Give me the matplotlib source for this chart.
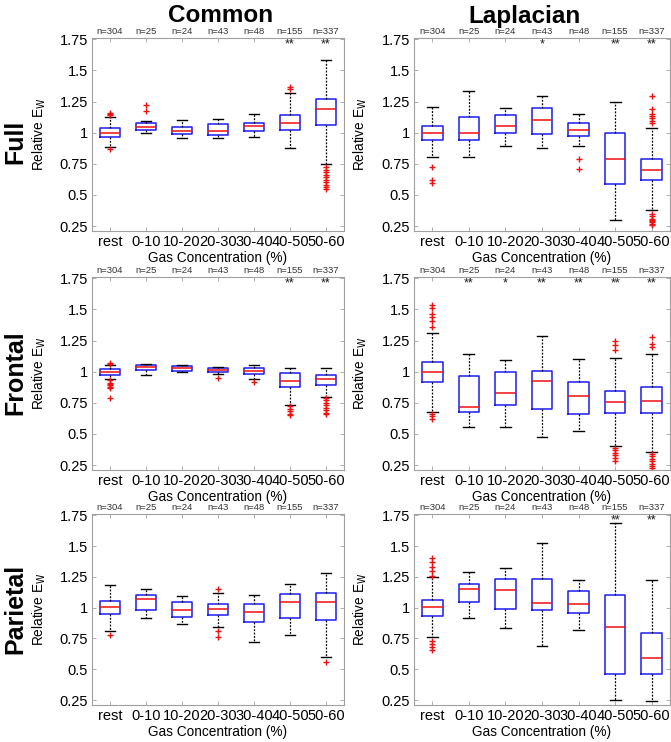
import matplotlib
matplotlib.use("Agg")
import matplotlib.pyplot as plt

plt.rcParams['font.family'] = ['Liberation Sans', 'DejaVu Sans']

categories = ['rest', '0-10', '10-20', '20-30', '30-40', '40-50', '50-60']
n_counts = [304, 25, 24, 43, 48, 155, 337]
row_names = ['Full', 'Frontal', 'Parietal']
col_names = ['Common', 'Laplacian']

# boxes: (whisker low, q1, median, q3, whisker high) per category
full_common_box = [(0.883, 0.963, 1.0, 1.035, 1.123), (0.995, 1.024, 1.048, 1.08, 1.09),
                   (0.955, 0.987, 1.013, 1.043, 1.104), (0.955, 0.984, 1.016, 1.069, 1.109),
                   (0.963, 1.016, 1.053, 1.08, 1.147), (0.875, 1.025, 1.075, 1.143, 1.319),
                   (0.745, 1.062, 1.19, 1.273, 1.582)]
full_common_out = [[1.16, 1.15, 1.14, 0.87], [1.176, 1.22], [], [], [], [1.37, 1.35],
                   [0.72, 0.70, 0.68, 0.66, 0.64, 0.62, 0.60, 0.58, 0.56, 0.55]]
full_common_sig = ['', '', '', '', '', '**', '**']

full_lap_box = [(0.803, 0.941, 1.0, 1.056, 1.203), (0.808, 0.941, 1.0, 1.128, 1.331),
                (0.89, 1.0, 1.056, 1.14, 1.195), (0.875, 0.987, 1.101, 1.195, 1.296),
                (0.896, 0.973, 1.024, 1.077, 1.149), (0.301, 0.584, 0.787, 0.997, 1.25),
                (0.381, 0.616, 0.701, 0.789, 1.04)]
full_lap_out = [[0.728, 0.616, 0.595], [], [], [], [0.789, 0.704], [],
                [1.296, 1.187, 1.149, 1.13, 1.115, 1.096, 1.08,
                 0.35, 0.33, 0.31, 0.30, 0.29, 0.28, 0.27, 0.26]]
full_lap_sig = ['', '', '', '*', '', '**', '**']

frontal_common_box = [(0.944, 0.976, 1.0, 1.019, 1.05), (0.976, 1.013, 1.035, 1.051, 1.061),
                      (0.995, 1.005, 1.027, 1.045, 1.05), (0.981, 0.997, 1.013, 1.029, 1.035),
                      (0.944, 0.984, 1.003, 1.027, 1.053), (0.733, 0.877, 0.928, 0.987, 1.027),
                      (0.80, 0.896, 0.939, 0.971, 1.032)]
frontal_common_out = [[1.07, 1.06, 0.93, 0.91, 0.90, 0.89, 0.88, 0.87, 0.79], [], [], [0.95],
                      [0.92], [0.72, 0.70, 0.68, 0.66, 0.65],
                      [0.79, 0.77, 0.75, 0.73, 0.71, 0.69, 0.67, 0.66]]
frontal_common_sig = ['', '', '', '', '', '**', '**']

frontal_lap_box = [(0.677, 0.915, 1.0, 1.077, 1.307), (0.557, 0.675, 0.715, 0.968, 1.144),
                   (0.555, 0.731, 0.827, 0.997, 1.096), (0.475, 0.696, 0.923, 1.005, 1.288),
                   (0.523, 0.659, 0.805, 0.92, 1.099), (0.403, 0.669, 0.757, 0.848, 1.109),
                   (0.352, 0.664, 0.768, 0.875, 1.141)]
frontal_lap_out = [[1.539, 1.509, 1.464, 1.435, 1.408, 1.36, 0.66, 0.64, 0.62], [], [], [], [],
                   [1.248, 1.211, 1.173, 0.39, 0.37, 0.35, 0.33, 0.31, 0.28],
                   [1.28, 1.22, 1.20, 0.336, 0.32, 0.30, 0.28, 0.26, 0.24, 0.23]]
frontal_lap_sig = ['', '**', '*', '**', '**', '**', '**']

parietal_common_box = [(0.808, 0.951, 1.005, 1.054, 1.186), (0.916, 0.984, 1.073, 1.105, 1.151),
                       (0.868, 0.927, 0.984, 1.046, 1.095), (0.841, 0.943, 0.992, 1.03, 1.119),
                       (0.719, 0.886, 0.962, 1.03, 1.10), (0.778, 0.919, 1.049, 1.108, 1.192),
                       (0.597, 0.903, 1.046, 1.122, 1.278)]
parietal_common_out = [[0.776], [], [], [1.151, 0.81, 0.76], [], [], [0.559]]
parietal_common_sig = ['', '', '', '', '', '', '']

parietal_lap_box = [(0.759, 0.935, 1.005, 1.062, 1.246), (0.914, 1.049, 1.154, 1.192, 1.289),
                    (0.835, 0.986, 1.141, 1.232, 1.324), (0.686, 0.984, 1.038, 1.232, 1.522),
                    (0.819, 0.957, 1.03, 1.138, 1.224), (0.251, 0.459, 0.843, 1.105, 1.689),
                    (0.241, 0.465, 0.589, 0.792, 1.224)]
parietal_lap_out = [[1.403, 1.368, 1.332, 1.295, 1.257, 0.73, 0.705, 0.68, 0.66], [], [], [], [],
                    [], []]
parietal_lap_sig = ['', '', '', '', '', '**', '**']

panels = [
    [(full_common_box, full_common_out, full_common_sig),
     (full_lap_box, full_lap_out, full_lap_sig)],
    [(frontal_common_box, frontal_common_out, frontal_common_sig),
     (frontal_lap_box, frontal_lap_out, frontal_lap_sig)],
    [(parietal_common_box, parietal_common_out, parietal_common_sig),
     (parietal_lap_box, parietal_lap_out, parietal_lap_sig)],
]

W, H = 671, 742
fig = plt.figure(figsize=(W / 100, H / 100), dpi=100)

# axes positions in pixels (left, right) and (top, bottom)
col_px = [(92, 344), (414, 670)]
row_px = [(38, 231), (277, 470), (514, 705)]
row_label_y = [142, 373, 609]
spine_col = '#a0a0a0'


def draw_panel(ax, boxes, outliers, sig):
    stats = []
    for (lo, q1, med, q3, hi), fl in zip(boxes, outliers):
        stats.append(dict(whislo=lo, q1=q1, med=med, q3=q3, whishi=hi, fliers=fl))
    pos = list(range(1, len(categories) + 1))
    ax.bxp(stats, positions=pos, widths=0.56, capwidths=0.3,
           boxprops=dict(color='#1c1cf0', linewidth=1.1),
           medianprops=dict(color='#f01010', linewidth=1.1),
           whiskerprops=dict(color='black', linestyle=(0, (1.5, 1.2)), linewidth=0.9),
           capprops=dict(color='black', linewidth=1.0),
           flierprops=dict(marker='+', markeredgecolor='#f01010', markersize=4,
                           markeredgewidth=1.0, linestyle='none'))
    ax.set_xlim(0.5, 7.5)
    ax.set_ylim(0.21, 1.76)
    ax.set_xticks(pos)
    ax.set_xticklabels(categories, fontsize=10.5)
    yt = [0.25, 0.5, 0.75, 1.0, 1.25, 1.5, 1.75]
    ax.set_yticks(yt)
    ax.set_yticklabels(['0.25', '0.5', '0.75', '1', '1.25', '1.5', '1.75'], fontsize=10.5)
    ax.tick_params(direction='in', length=3, width=0.6, color=spine_col,
                   top=True, right=True, pad=3)
    for s in ax.spines.values():
        s.set_color(spine_col)
        s.set_linewidth(0.8)
    ax.set_xlabel('Gas Concentration (%)', fontsize=9.8, labelpad=1)
    ax.set_ylabel(r'Relative E$_\mathrm{W}$', fontsize=9.8)
    ax.yaxis.set_label_coords(-0.175, 0.5)
    tr = ax.get_xaxis_transform()
    for p, n, s in zip(pos, n_counts, sig):
        ax.text(p, 1.012, 'n=%d' % n, transform=tr, ha='center', va='bottom',
                fontsize=6.8, color='#333333')
        if s:
            ax.text(p, 1.0, s, transform=tr, ha='center', va='top',
                    fontsize=9, color='#222222')


for r, (top, bot) in enumerate(row_px):
    for c, (left, right) in enumerate(col_px):
        ax = fig.add_axes([left / W, 1 - bot / H, (right - left) / W, (bot - top) / H])
        boxes, outs, sig = panels[r][c]
        draw_panel(ax, boxes, outs, sig)
    fig.text(15 / W, 1 - row_label_y[r] / H, row_names[r], rotation=90,
             ha='center', va='center', fontsize=18, fontweight='bold')

fig.text(221 / W, 1 - 16 / H, col_names[0], ha='center', va='center',
         fontsize=17.5, fontweight='bold')
fig.text(525 / W, 1 - 16 / H, col_names[1], ha='center', va='center',
         fontsize=17.5, fontweight='bold')

fig.savefig('out.png', dpi=100)
